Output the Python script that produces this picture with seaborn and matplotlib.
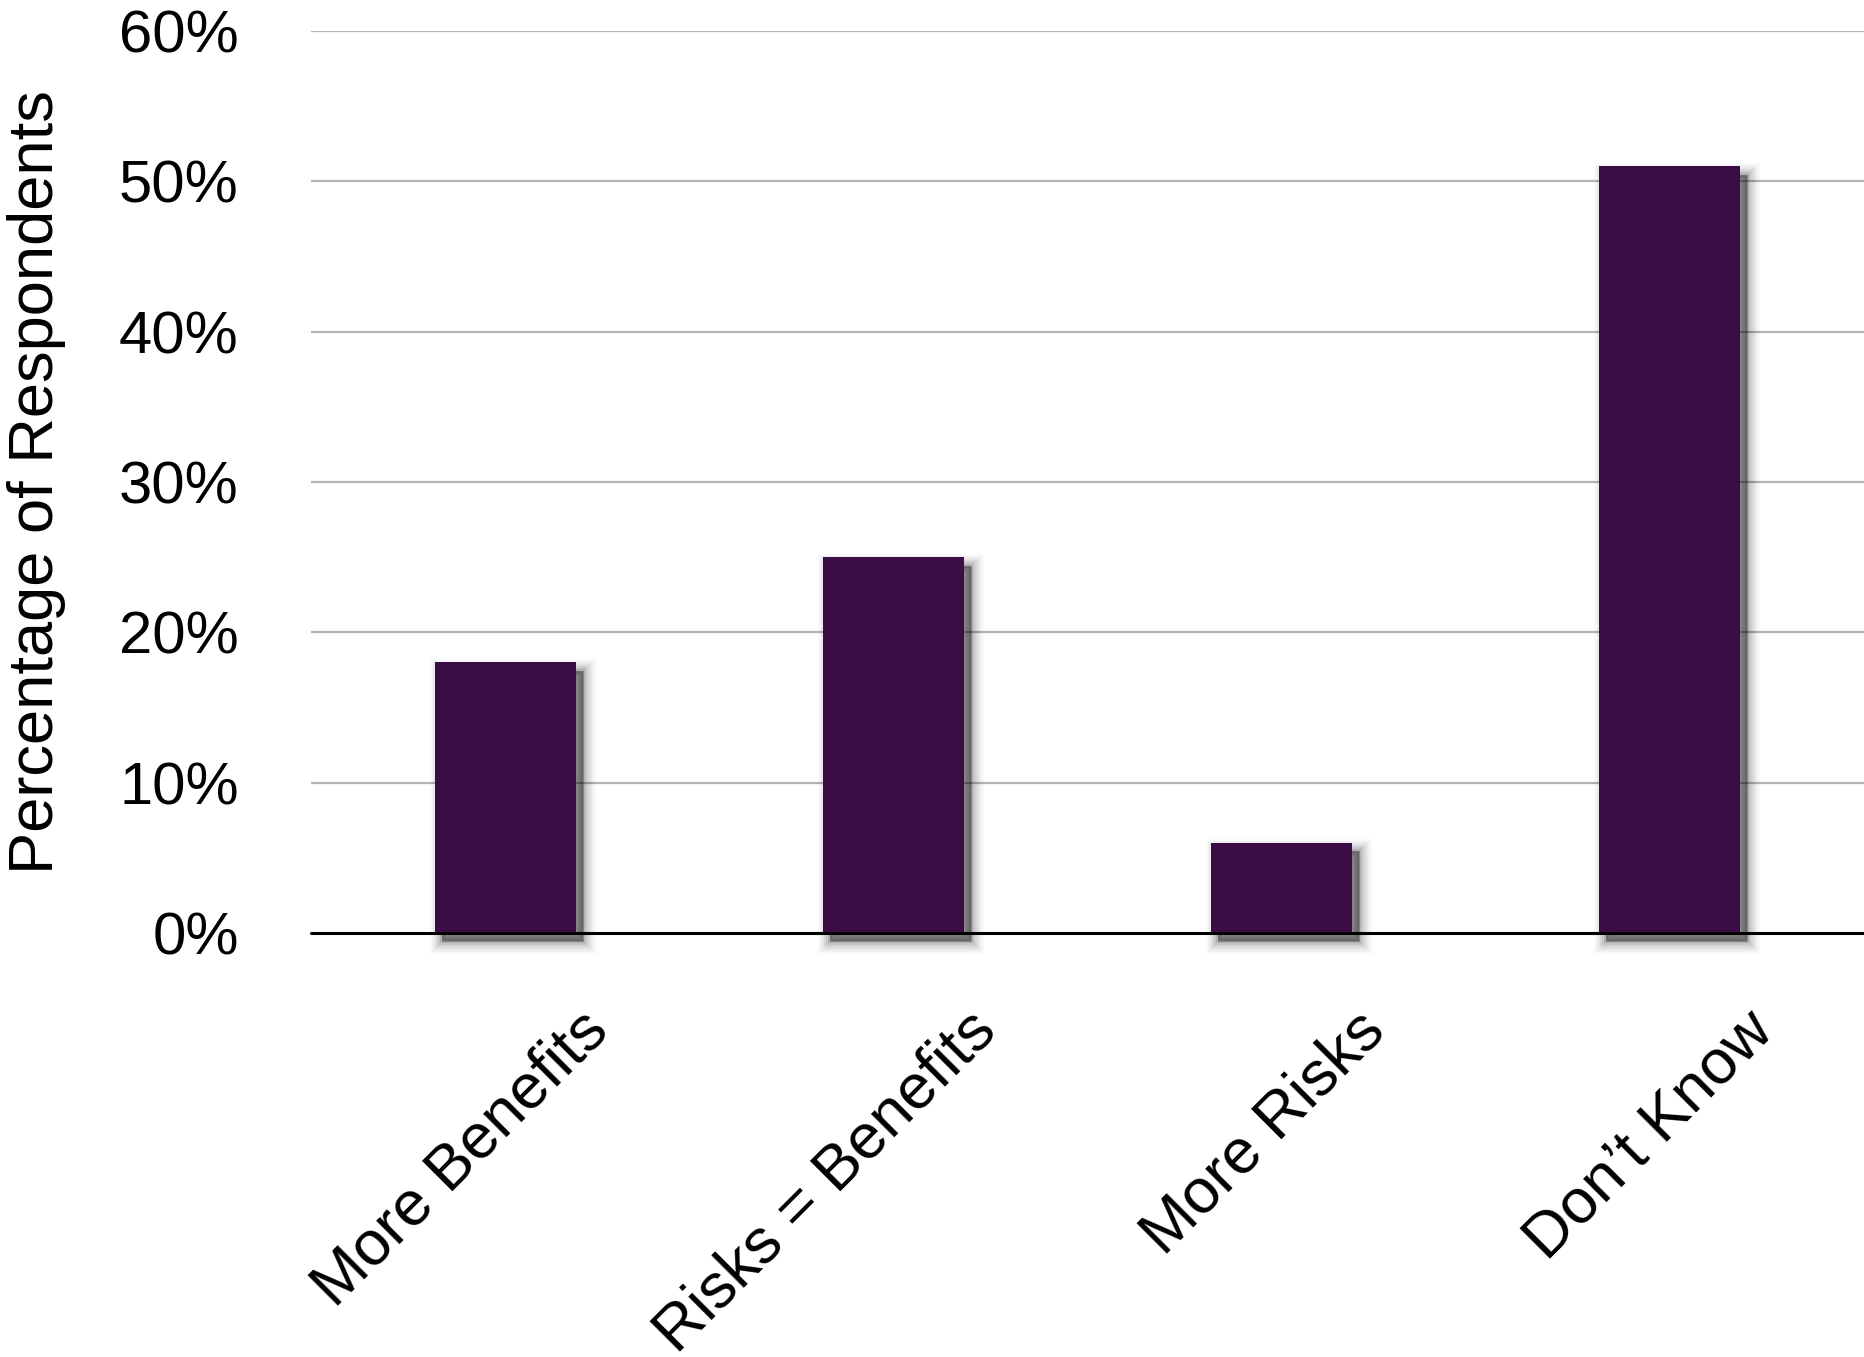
import matplotlib
matplotlib.use("Agg")
import matplotlib.pyplot as plt
import matplotlib.patheffects as pe
import matplotlib.transforms as mtransforms
import seaborn as sns
import pandas as pd
from matplotlib.ticker import FuncFormatter

categories = ["More Benefits", "Risks = Benefits", "More Risks", "Don\u2019t Know"]
values = [18, 25, 6, 51]
yticks = [0, 10, 20, 30, 40, 50, 60]

sns.set_theme(style="white")
plt.rcParams['font.family'] = ['Liberation Sans', 'DejaVu Sans']
plt.rcParams['text.color'] = 'black'
plt.rcParams['axes.labelcolor'] = 'black'
plt.rcParams['xtick.color'] = 'black'
plt.rcParams['ytick.color'] = 'black'

df = pd.DataFrame({"category": categories, "value": values})

fig = plt.figure(figsize=(18.64, 13.57), dpi=100)
ax = fig.add_axes([311/1864, 1 - 933/1357, (1864 - 311)/1864, (933 - 31)/1357])

sns.barplot(data=df, x="category", y="value", color="#3C0C47", saturation=1,
            width=0.363, ax=ax, zorder=3)

layers = [(18, 0.025), (15, 0.035), (12, 0.045), (9, 0.06), (6, 0.08), (3, 0.1), (0.5, 0.15)]
shadow = [pe.SimplePatchShadow(offset=(5, -6), shadow_rgbFace="black", alpha=a, linewidth=lw)
          for lw, a in layers] + [pe.Normal()]
for p in ax.patches:
    p.set_path_effects(shadow)
    p.set_edgecolor("none")
    p.set_clip_on(False)

ax.set_ylim(0, 60)
ax.set_xlim(-0.5, 3.5)
ax.set_yticks(yticks)
ax.yaxis.set_major_formatter(FuncFormatter(lambda v, _: f"{int(v)}%"))
for y in yticks[1:]:
    ax.axhline(y, color="#b4b4b4", lw=1.6, zorder=1)
ax.axhline(0, color="black", lw=2.2, zorder=4, clip_on=False)

for s in ax.spines.values():
    s.set_visible(False)
ax.tick_params(axis="y", length=0, pad=52, labelsize=43)
ax.tick_params(axis="x", length=0, pad=30, labelsize=45.5)
offset = mtransforms.ScaledTranslation(0.73, -0.26, fig.dpi_scale_trans)
for lab in ax.get_xticklabels():
    lab.set_rotation(45)
    lab.set_ha("right")
    lab.set_rotation_mode("anchor")
    lab.set_transform(lab.get_transform() + offset)
ax.set_xlabel("")
ax.set_ylabel("Percentage of Respondents", fontsize=45.5)
ax.yaxis.set_label_coords(-0.158, 0.5)

fig.savefig("out.png", dpi=100, facecolor="white")
